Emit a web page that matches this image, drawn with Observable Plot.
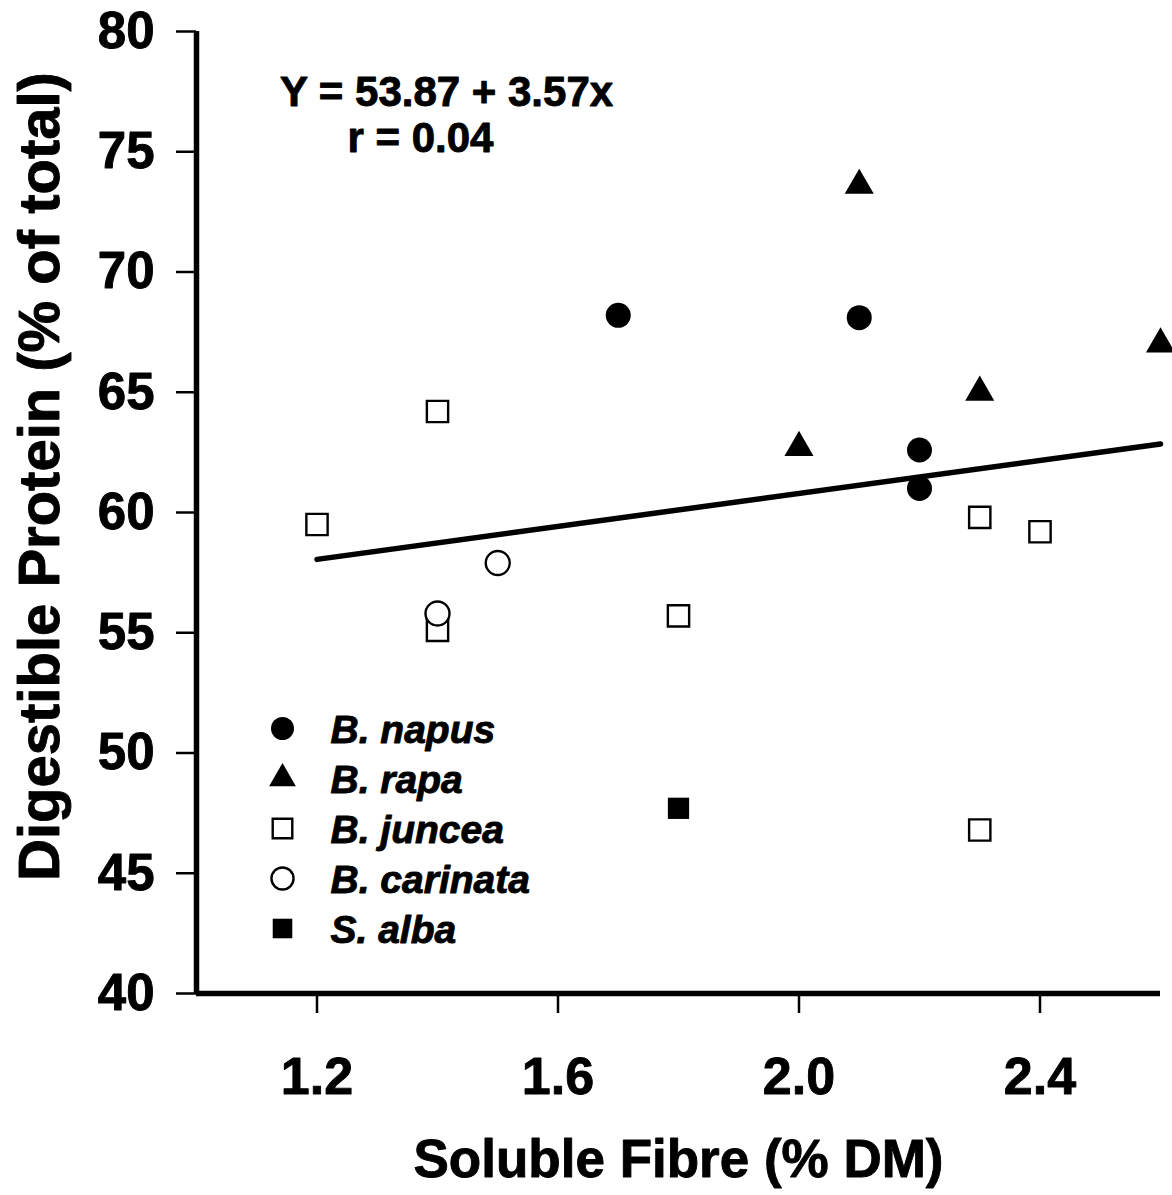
<!DOCTYPE html>
<html>
<head>
<meta charset="utf-8">
<script src="https://cdn.jsdelivr.net/npm/d3@7"></script>
<script src="https://cdn.jsdelivr.net/npm/@observablehq/plot@0.6"></script>
<style>
  html, body { margin: 0; padding: 0; background: #fff; }
  #chart svg { display: block; }
</style>
</head>
<body>
<div id="chart"></div>
<script>
// ---- Data ----
const napusX = [1.7, 2.1, 2.2, 2.2];
const napusY = [68.2, 68.1, 62.6, 61.0];

const rapaX = [2.1, 2.0, 2.3, 2.6];
const rapaY = [73.6, 62.7, 65.0, 67.0];

const junceaX = [1.2, 1.4, 1.4, 1.8, 2.3, 2.4, 2.3];
const junceaY = [59.5, 64.2, 55.1, 55.7, 59.8, 59.2, 46.8];

const carinataX = [1.4, 1.5];
const carinataY = [55.8, 57.9];

const albaX = [1.8];
const albaY = [47.7];

// regression line endpoints (Y = 53.87 + 3.57x, as drawn)
const fitX = [1.2, 2.6];
const fitY = [58.05, 62.85];

const xTicks = [1.2, 1.6, 2.0, 2.4];
const yTicks = [40, 45, 50, 55, 60, 65, 70, 75, 80];

const legendNames = ["B. napus", "B. rapa", "B. juncea", "B. carinata", "S. alba"];
const equationText = ["Y = 53.87 + 3.57x", "r = 0.04"];
const xLabel = "Soluble Fibre (% DM)";
const yLabel = "Digestible Protein (% of total)";

// ---- Build ----
const pts = (xs, ys) => xs.map((x, i) => ({x, y: ys[i]}));
const fit = pts(fitX, fitY);

const styles = [
  {symbol: "circle",   fill: "black", stroke: "none",  r: 12.5, strokeWidth: 0},
  {symbol: "triangle", fill: "black", stroke: "none",  r: 10.8, strokeWidth: 0},
  {symbol: "square",   fill: "white", stroke: "black", r: 12,   strokeWidth: 2.4},
  {symbol: "circle",   fill: "white", stroke: "black", r: 12,   strokeWidth: 2.4},
  {symbol: "square",   fill: "black", stroke: "none",  r: 12,   strokeWidth: 0}
];
const series = [pts(napusX, napusY), pts(rapaX, rapaY), pts(junceaX, junceaY), pts(carinataX, carinataY), pts(albaX, albaY)];

const font = "'Liberation Sans', Arial, Helvetica, sans-serif";
const heavy = {stroke: "black", strokeWidth: 0.9};

const marks = [];
// axis lines
marks.push(Plot.ruleX([1.0], {stroke: "black", strokeWidth: 5.5}));
marks.push(Plot.ruleY([40], {stroke: "black", strokeWidth: 5.5}));
// axes
marks.push(Plot.axisY({ticks: yTicks, tickSize: 20, tickPadding: 22, fontSize: 51, fontWeight: "bold", strokeWidth: 2.5, textStroke: "black", textStrokeWidth: 0.9, label: null, tickFormat: d3.format("d")}));
marks.push(Plot.axisX({ticks: xTicks, tickSize: 20, tickPadding: 44, fontSize: 52, fontWeight: "bold", strokeWidth: 2.5, textStroke: "black", textStrokeWidth: 0.9, label: null, tickFormat: d3.format(".1f")}));
// regression line
marks.push(Plot.line(fit, {x: "x", y: "y", stroke: "black", strokeWidth: 5.5, strokeLinecap: "round"}));
// points
series.forEach((data, i) => {
  const s = styles[i];
  marks.push(Plot.dot(data, {x: "x", y: "y", symbol: s.symbol, r: s.r, fill: s.fill, stroke: s.stroke, strokeWidth: s.strokeWidth}));
});
// legend
legendNames.forEach((name, i) => {
  const s = styles[i];
  marks.push(Plot.dot([name], {frameAnchor: "top-left", dx: 86, dy: 697 + i * 50, symbol: s.symbol, r: s.r * 0.92, fill: s.fill, stroke: s.stroke, strokeWidth: s.strokeWidth}));
  marks.push(Plot.text([name], {frameAnchor: "top-left", dx: 134, dy: 699 + i * 50, text: d => d, textAnchor: "start", lineAnchor: "middle", fontSize: 39, fontWeight: "bold", fontStyle: "italic", fill: "black", ...heavy}));
});
// equation
marks.push(Plot.text([equationText[0]], {frameAnchor: "top-left", dx: 250, dy: 61, text: d => d, textAnchor: "middle", lineAnchor: "middle", fontSize: 42, fontWeight: "bold", fill: "black", ...heavy}));
marks.push(Plot.text([equationText[1]], {frameAnchor: "top-left", dx: 224, dy: 107, text: d => d, textAnchor: "middle", lineAnchor: "middle", fontSize: 42, fontWeight: "bold", fill: "black", ...heavy}));
// axis labels
marks.push(Plot.text([xLabel], {frameAnchor: "bottom", dy: 167, text: d => d, textAnchor: "middle", lineAnchor: "middle", fontSize: 53, fontWeight: "bold", fill: "black", ...heavy}));
marks.push(Plot.text([yLabel], {frameAnchor: "left", dx: -156, dy: -36, rotate: -90, text: d => d, textAnchor: "middle", lineAnchor: "middle", fontSize: 58, fontWeight: "bold", fill: "black", ...heavy}));

const chart = Plot.plot({
  width: 1172,
  height: 1195,
  marginTop: 31,
  marginBottom: 202,
  marginLeft: 196,
  marginRight: 12,
  style: {fontFamily: font, color: "black", background: "white", overflow: "visible"},
  x: {domain: [1.0, 2.6]},
  y: {domain: [40, 80]},
  marks
});
document.getElementById("chart").appendChild(chart);
</script>
</body>
</html>
